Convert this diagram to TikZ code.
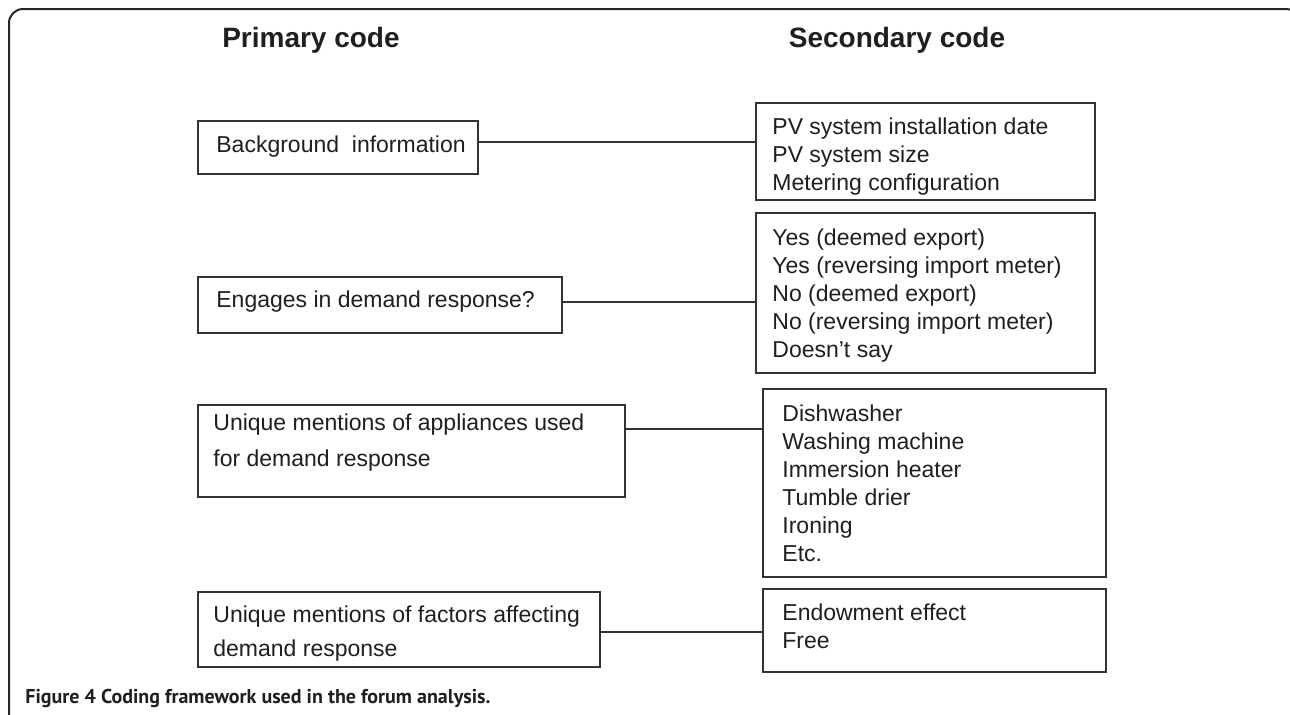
\documentclass[tikz,border=0pt]{standalone}
\usepackage{fontspec}
\setmainfont{Liberation Sans}
\newfontfamily\capfont{PT Sans}
\usetikzlibrary{fit}
\begin{document}
\begin{tikzpicture}[x=0.5pt,y=-0.5pt,
  box/.style={draw=black!80, line width=0.75pt, inner sep=0pt},
  txt/.style={anchor=base west, inner sep=0pt, font=\fontsize{11.5}{14}\selectfont, text=black!88},
  head/.style={anchor=base, inner sep=0pt, font=\fontsize{14}{16}\selectfont\bfseries, text=black!88},
  link/.style={draw=black!80, line width=0.75pt}]
\useasboundingbox (0,0) rectangle (1290,714);
\fill[white] (0,0) rectangle (1290,714);
\draw[black!85, line width=1pt, rounded corners=7pt] (9,760) -- (9,9) -- (1300,9) -- (1300,760);

% headings
\node[head] (hp) at (311,47) {Primary code};
\node[head] (hs) at (897,47) {Secondary code};

% left boxes
\node[box, fit={(198,121) (478,174)}] (l1) {};
\node[box, fit={(198,277) (562,333)}] (l2) {};
\node[box, fit={(198,405) (625,497)}] (l3) {};
\node[box, fit={(198,592) (600,667)}] (l4) {};

\node[txt] (l1a) at (216,152) {Background\ \ information};
\node[txt] (l2a) at (216,307) {Engages in demand response?};
\node[txt] (l3a) at (213,430) {Unique mentions of appliances used};
\node[txt] (l3b) at (213,466) {for demand response};
\node[txt] (l4a) at (213,622) {Unique mentions of factors affecting};
\node[txt] (l4b) at (213,656) {demand response};

% right boxes
\node[box, fit={(756,103) (1095,200)}] (r1) {};
\node[box, fit={(756,213) (1095,373)}] (r2) {};
\node[box, fit={(763,389) (1106,577)}] (r3) {};
\node[box, fit={(763,589) (1106,672)}] (r4) {};

\foreach \t [count=\i] in {PV system installation date, PV system size, Metering configuration}
  \node[txt] (r1t\i) at (772,{134+28*(\i-1)}) {\t};
\foreach \t [count=\i] in {Yes (deemed export), Yes (reversing import meter), No (deemed export), No (reversing import meter), Doesn’t say}
  \node[txt] (r2t\i) at (772,{245+28*(\i-1)}) {\t};
\foreach \t [count=\i] in {Dishwasher, Washing machine, Immersion heater, Tumble drier, Ironing, Etc.}
  \node[txt] (r3t\i) at (782,{421+28*(\i-1)}) {\t};
\foreach \t [count=\i] in {Endowment effect, Free}
  \node[txt] (r4t\i) at (782,{620+28*(\i-1)}) {\t};

% connectors
\draw[link] (l1.east |- 0,142) -- (r1.west |- 0,142);
\draw[link] (l2.east |- 0,302) -- (r2.west |- 0,302);
\draw[link] (l3.east |- 0,429) -- (r3.west |- 0,429);
\draw[link] (l4.east |- 0,632) -- (r4.west |- 0,632);

% caption
\node[anchor=base west, inner sep=0pt, text=black!88, font=\capfont\bfseries\fontsize{10}{12}\selectfont] (cap) at (25,703) {Figure 4 Coding framework used in the forum analysis.};
\end{tikzpicture}
\end{document}
